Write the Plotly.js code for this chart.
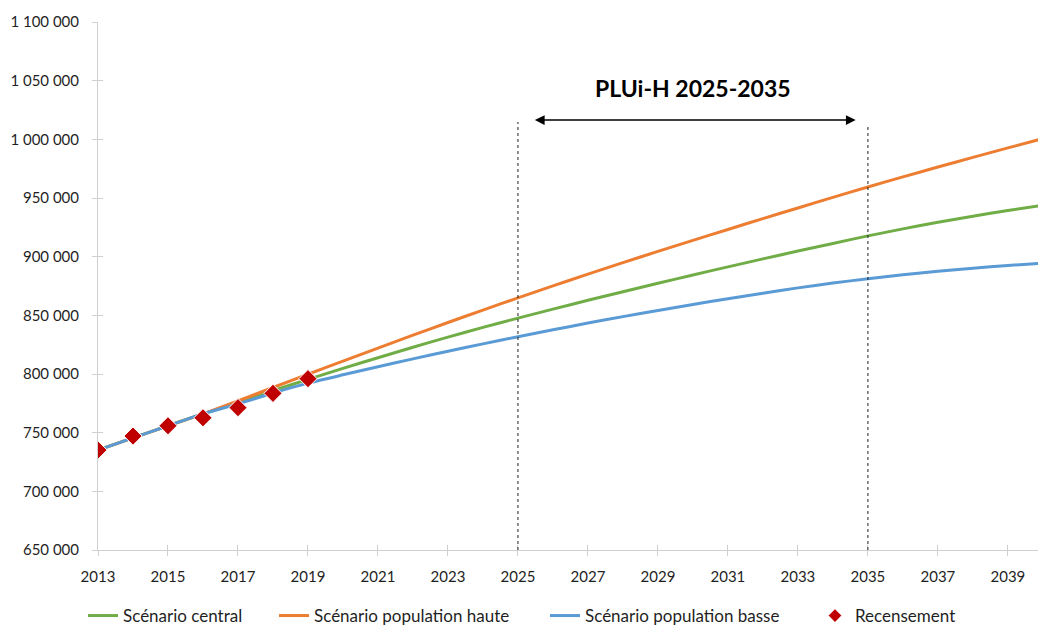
<!DOCTYPE html>
<html>
<head>
<meta charset="utf-8">
<script src="https://cdn.plot.ly/plotly-3.0.1.min.js"></script>
<style>
  html, body { margin: 0; padding: 0; background: #ffffff; }
  #chart { width: 1038px; height: 626px; }
</style>
</head>
<body>
<div id="chart"></div>
<script>
// ---- Data ----
const years = [2013, 2014, 2015, 2016, 2017, 2018, 2019, 2020, 2021, 2022, 2023, 2024, 2025, 2026,
               2027, 2028, 2029, 2030, 2031, 2032, 2033, 2034, 2035, 2036, 2037, 2038, 2039, 2040];

const scenarioCentral = [735200, 745500, 755900, 766000, 775600, 785800, 795400, 804800, 813900, 822800,
                         831400, 839700, 847600, 855300, 862800, 870100, 877300, 884400, 891300, 898100,
                         904800, 911300, 917700, 923700, 929300, 934500, 939300, 943800];

const scenarioHaute = [735200, 745500, 755900, 766000, 777000, 788500, 799800, 811000, 822100, 833100,
                       843900, 854500, 864900, 875100, 885100, 894900, 904500, 913900, 923200, 932400,
                       941500, 950500, 959400, 968000, 976400, 984600, 992700, 1000700];

const scenarioBasse = [735200, 745500, 755900, 766000, 774500, 783800, 792200, 799300, 806200, 812900,
                       819400, 825700, 831800, 837700, 843400, 848900, 854200, 859300, 864200, 868900,
                       873400, 877500, 881200, 884600, 887600, 890200, 892500, 894500];

const censusYears = [2013, 2014, 2015, 2016, 2017, 2018, 2019];
const censusValues = [735200, 747100, 755900, 762700, 771300, 783500, 796000];

const seriesNames = ["Scénario central", "Scénario population haute", "Scénario population basse", "Recensement"];
const planLabel = "PLUi-H 2025-2035";
const planStart = 2025;
const planEnd = 2035;

// ---- Styling ----
const FONT = "Lato, 'Open Sans', sans-serif";
const TXT = "#1f1f1f";
const AXIS = "#d0d0d0";
const colors = { central: "#70ad47", haute: "#ed7d31", basse: "#5b9bd5", census: "#c00000" };

const xRange = [2013, 2039.86];
const yRange = [650000, 1100000];

function lineTrace(name, y, color, legendId) {
  return {
    type: "scatter", mode: "lines", name: name, legend: legendId,
    x: years, y: y,
    line: { color: color, width: 3, shape: "spline", smoothing: 0.6 },
    hoverinfo: "x+y+name"
  };
}

const traces = [
  lineTrace(seriesNames[0], scenarioCentral, colors.central, "legend"),
  lineTrace(seriesNames[1], scenarioHaute, colors.haute, "legend2"),
  lineTrace(seriesNames[2], scenarioBasse, colors.basse, "legend3"),
  {
    type: "scatter", mode: "markers", name: seriesNames[3], legend: "legend4",
    x: censusYears, y: censusValues,
    marker: { symbol: "diamond", size: 14, color: colors.census, line: { color: "#ffffff", width: 1 } }
  },
  // invisible helper trace so the overlaid axes (inner half of the crossing ticks) are drawn
  { type: "scatter", mode: "markers", x: [xRange[0]], y: [yRange[0]], xaxis: "x2", yaxis: "y2",
    marker: { opacity: 0 }, showlegend: false, hoverinfo: "skip" }
];

const ySpan = yRange[1] - yRange[0];
const plotTopPx = 22, plotBottomPx = 550, plotH = plotBottomPx - plotTopPx;
function pxToVal(py) { return yRange[0] + (plotBottomPx - py) / plotH * ySpan; }

function legendAt(leftPx, sizing) {
  return {
    orientation: "h", x: leftPx / 1038, xref: "container", xanchor: "left",
    y: (626 - 616) / 626, yref: "container", yanchor: "middle",
    font: { family: FONT, size: 17, color: TXT },
    itemwidth: 30, itemsizing: sizing || "trace", bgcolor: "rgba(0,0,0,0)", borderwidth: 0
  };
}

const layout = {
  width: 1038, height: 626,
  margin: { l: 98, r: 0, t: 22, b: 76, pad: 0 },
  paper_bgcolor: "#ffffff", plot_bgcolor: "#ffffff",
  font: { family: FONT, size: 15, color: TXT },
  separators: ", ",
  showlegend: true,
  xaxis: {
    range: xRange, tick0: 2013, dtick: 2, tickmode: "linear",
    showgrid: false, zeroline: false,
    showline: true, linecolor: AXIS, linewidth: 1,
    ticks: "outside", ticklen: 5, tickcolor: AXIS, tickwidth: 1,
    tickfont: { family: FONT, size: 15, color: TXT },
    ticklabelstandoff: 8
  },
  yaxis: {
    range: yRange, tick0: 650000, dtick: 50000, tickmode: "linear",
    tickformat: ",d",
    showgrid: false, zeroline: false,
    showline: true, linecolor: AXIS, linewidth: 1,
    ticks: "outside", ticklen: 5, tickcolor: AXIS, tickwidth: 1,
    tickfont: { family: FONT, size: 15, color: TXT },
    ticklabelstandoff: 10
  },
  xaxis2: {
    overlaying: "x", anchor: "y2", range: xRange, tick0: 2013, dtick: 2, tickmode: "linear",
    showgrid: false, zeroline: false, showline: false, showticklabels: false,
    ticks: "inside", ticklen: 5, tickcolor: AXIS, tickwidth: 1, side: "bottom"
  },
  yaxis2: {
    overlaying: "y", anchor: "x2", range: yRange, tick0: 650000, dtick: 50000, tickmode: "linear",
    showgrid: false, zeroline: false, showline: false, showticklabels: false,
    ticks: "inside", ticklen: 5, tickcolor: AXIS, tickwidth: 1, side: "left"
  },
  legend: legendAt(83),
  legend2: legendAt(274),
  legend3: legendAt(545),
  legend4: legendAt(815, "constant"),
  shapes: [
    { type: "line", xref: "x", yref: "y", x0: planStart, x1: planStart,
      y0: yRange[0], y1: pxToVal(122), line: { color: "#202020", width: 1, dash: "dot" } },
    { type: "line", xref: "x", yref: "y", x0: planEnd, x1: planEnd,
      y0: yRange[0], y1: pxToVal(124), line: { color: "#202020", width: 1, dash: "dot" } }
  ],
  annotations: [
    { text: "<b>" + planLabel + "</b>", xref: "x", yref: "y",
      x: (planStart + planEnd) / 2, y: pxToVal(88), showarrow: false,
      font: { family: FONT, size: 23, color: "#000000" } },
    { text: "", xref: "x", yref: "y", axref: "x", ayref: "y",
      x: planEnd - 0.35, y: pxToVal(120), ax: planStart + 0.44, ay: pxToVal(120),
      showarrow: true, arrowside: "end+start", arrowhead: 2, arrowsize: 1.3,
      arrowwidth: 1.5, arrowcolor: "#000000", standoff: 0, startstandoff: 0 }
  ]
};

Plotly.newPlot("chart", traces, layout, { displayModeBar: false, staticPlot: true });
</script>
</body>
</html>
